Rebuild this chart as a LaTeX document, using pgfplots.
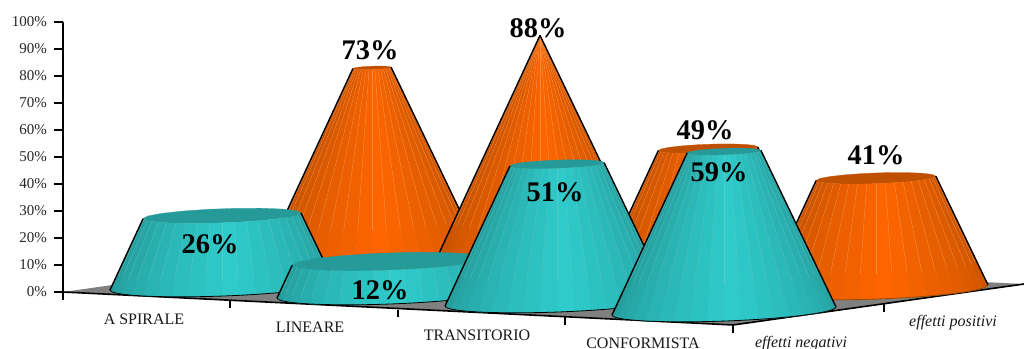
\documentclass[border=0pt]{standalone}
\usepackage{fontspec}
\setmainfont{Liberation Serif}
\usepackage{pgfplots}
\usepackage{pgfplotstable}
\pgfplotsset{compat=1.18}

% x: horizontal position of each cone on the sheet, base: height of its foot, v: percentage
\pgfplotstableread{
x   base   v
372 10.00  73
540  7.04  88
708  4.07  49
876  1.11  41
}\positivi
\pgfplotstableread{
x   base    v
222  2.22   26
389 -0.74   12
557 -3.70   51
724 -7.04   59
}\negativi

% one row of cones, coloured from the palette macros set before the call
\newcommand{\conerow}[1]{%
  \foreach \row in {0,1,2,3} {%
    \pgfplotstablegetelem{\row}{x}\of{#1}\let\cx\pgfplotsretval
    \pgfplotstablegetelem{\row}{base}\of{#1}\let\by\pgfplotsretval
    \pgfplotstablegetelem{\row}{v}\of{#1}\let\val\pgfplotsretval
    \pgfmathsetmacro\rt{112*(1-\val/88)}
    \pgfmathsetmacro\ty{\by+\val}
    % cap of the cone
    \gdef\cappts{}
    \foreach \t in {0,20,...,340} {%
      \pgfmathsetmacro\px{\cx+\rt*cos(\t)}
      \pgfmathsetmacro\py{\ty+\rt*cos(\t)/75-\rt*sin(\t)/30}
      \xdef\cappts{\cappts (\px,\py)}
    }
    \edef\tmp{\noexpand\addplot[forget plot,fill={rgb,255:red,\capR;green,\capG;blue,\capB},draw={rgb,255:red,\capR;green,\capG;blue,\capB},line width=0.2pt] coordinates {\cappts} -- cycle;}\tmp
    % facets of the mantle, one every 9 degrees round the front
    \gdef\basepts{}
    \foreach \k in {0,...,19} {%
      \pgfmathsetmacro\ta{\k*9}
      \pgfmathsetmacro\tb{(\k+1)*9}
      \pgfmathsetmacro\tm{\ta+4.5}
      \pgfmathsetmacro\s{max(0,1-abs(\tm-\peak)/100)}
      \pgfmathtruncatemacro\fr{\darkR+\s*(\brightR-\darkR)}
      \pgfmathtruncatemacro\fg{\darkG+\s*(\brightG-\darkG)}
      \pgfmathtruncatemacro\fb{\darkB+\s*(\brightB-\darkB)}
      \pgfmathsetmacro\xa{\cx+\rt*cos(\ta)}
      \pgfmathsetmacro\ya{\ty+\rt*cos(\ta)/75-\rt*sin(\ta)/30}
      \pgfmathsetmacro\xb{\cx+\rt*cos(\tb)}
      \pgfmathsetmacro\yb{\ty+\rt*cos(\tb)/75-\rt*sin(\tb)/30}
      \pgfmathsetmacro\xc{\cx+112*cos(\tb)}
      \pgfmathsetmacro\yc{\by+112*cos(\tb)/75-112*sin(\tb)/30}
      \pgfmathsetmacro\xd{\cx+112*cos(\ta)}
      \pgfmathsetmacro\yd{\by+112*cos(\ta)/75-112*sin(\ta)/30}
      \edef\tmp{\noexpand\addplot[forget plot,fill={rgb,255:red,\fr;green,\fg;blue,\fb},draw={rgb,255:red,\fr;green,\fg;blue,\fb},line width=0.25pt] coordinates {(\xa,\ya)(\xb,\yb)(\xc,\yc)(\xd,\yd)} -- cycle;}\tmp
      \xdef\basepts{\basepts (\xd,\yd)}
      \ifnum\k=19 \xdef\basepts{\basepts (\xc,\yc)}\fi
      \ifnum\k>0
        \pgfmathsetmacro\xe{\xa+0.78*(\xd-\xa)}
        \pgfmathsetmacro\ye{\ya+0.78*(\yd-\ya)}
        \edef\tmp{\noexpand\addplot[forget plot,draw={rgb,255:red,\ribR;green,\ribG;blue,\ribB},line width=0.25pt,opacity=0.6] coordinates {(\xa,\ya)(\xe,\ye)};}\tmp
      \fi
    }
    % rim along the foot and the two black silhouette edges
    \edef\tmp{\noexpand\addplot[forget plot,draw=\rimcolor,line width=0.6pt] coordinates {\basepts};}\tmp
    \pgfmathsetmacro\lx{\cx-112}\pgfmathsetmacro\ly{\by-112/75}
    \pgfmathsetmacro\ux{\cx-\rt}\pgfmathsetmacro\uy{\ty-\rt/75}
    \edef\tmp{\noexpand\addplot[forget plot,black,line width=1.05pt] coordinates {(\lx,\ly)(\ux,\uy)};}\tmp
    \pgfmathsetmacro\lx{\cx+112}\pgfmathsetmacro\ly{\by+112/75}
    \pgfmathsetmacro\ux{\cx+\rt}\pgfmathsetmacro\uy{\ty+\rt/75}
    \edef\tmp{\noexpand\addplot[forget plot,black,line width=1.05pt] coordinates {(\lx,\ly)(\ux,\uy)};}\tmp
  }%
}

\begin{document}
\begin{tikzpicture}
\path[use as bounding box,clip] (-47.25pt,-36.75pt) rectangle (720.75pt,225pt);
\begin{axis}[
  anchor=south west, at={(0pt,0pt)},
  scale only axis, width=720.75pt, height=208.5pt,
  xmin=63, xmax=1024, ymin=-2.963, ymax=100,
  enlargelimits=false, clip=false,
  axis x line=none, axis y line=left,
  axis line style={-,black,line width=0.9pt},
  ytick={0,10,...,100},
  yticklabel={\pgfmathprintnumber[assume math mode=true]{\tick}\%},
  yticklabel style={font=\fontsize{11.25pt}{13pt}\selectfont,text=black!85,xshift=-1.8pt},
  tick align=outside, tick pos=left,
  major tick length=6.75pt,
  tick style={black,line width=0.9pt},
]
% floor of the chart
\addplot[forget plot,fill={rgb,255:red,128;green,128;blue,128},draw=none] coordinates {(63,0)(733,-12.22)(1024,2.96)(354,15.19)} -- cycle;
\addplot[forget plot,black,line width=1.2pt] coordinates {(63,0)(733,-12.22)(1024,2.96)};
% ticks on the two floor edges
\addplot[forget plot,black,line width=0.8pt] coordinates {(230,-3.2)(230,-5.93)};
\addplot[forget plot,black,line width=0.8pt] coordinates {(398,-6.6)(398,-9.26)};
\addplot[forget plot,black,line width=0.8pt] coordinates {(565,-9.4)(565,-12.22)};
\addplot[forget plot,black,line width=0.8pt] coordinates {(733,-12.22)(733,-15.19)};
\addplot[forget plot,black,line width=0.8pt] coordinates {(884,-4.6)(884,-7.41)};

% rear row: effetti positivi
\def\peak{85}
\def\rimcolor{orange!60!black}
\def\brightR{255}\def\brightG{102}\def\brightB{0}
\def\darkR{190}\def\darkG{80}\def\darkB{0}
\def\capR{191}\def\capG{80}\def\capB{0}
\def\ribR{255}\def\ribG{170}\def\ribB{110}
\conerow{\positivi}

% front row: effetti negativi
\def\rimcolor{black}
\def\brightR{48}\def\brightG{204}\def\brightB{204}
\def\darkR{36}\def\darkG{150}\def\darkB{150}
\def\capR{38}\def\capG{153}\def\capB{153}
\def\ribR{110}\def\ribG{205}\def\ribB{200}
\conerow{\negativi}

% value labels
\foreach \lx/\ly/\txt in {370/89.6/73,538/97.8/88,705/60/49,876/50.7/41,210/17.8/26,380/0.7/12,555/37/51,719/44.4/59} {
  \edef\tmp{\noexpand\node[font=\noexpand\fontsize{21.3pt}{24pt}\noexpand\selectfont\noexpand\bfseries,inner sep=0pt] at (axis cs:\lx,\ly) {\txt\noexpand\%};}\tmp
}
% category and series names under the floor
\tikzset{catlabel/.style={font=\fontsize{12pt}{14pt}\selectfont,inner sep=0pt,text=black!90}}
\node[catlabel] at (axis cs:144,-10.2) {A SPIRALE};
\node[catlabel] at (axis cs:310,-13.1) {LINEARE};
\node[catlabel] at (axis cs:477,-16.1) {TRANSITORIO};
\node[catlabel] at (axis cs:643,-19.1) {CONFORMISTA};
\node[catlabel,font=\fontsize{12pt}{14pt}\selectfont\itshape] at (axis cs:801,-19) {effetti negativi};
\node[catlabel,font=\fontsize{12pt}{14pt}\selectfont\itshape] at (axis cs:953,-11.5) {effetti positivi};
\end{axis}
\end{tikzpicture}
\end{document}
